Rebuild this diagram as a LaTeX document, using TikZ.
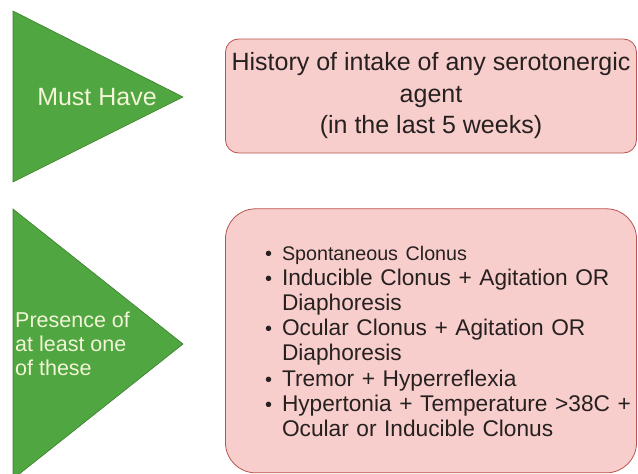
\documentclass[tikz,border=0pt]{standalone}
\usepackage{fontspec}
\setmainfont{Liberation Sans}
\usetikzlibrary{positioning}

\definecolor{tabgreen}{RGB}{80,166,64}
\definecolor{tabgreenline}{RGB}{58,128,44}
\definecolor{boxpink}{RGB}{248,206,204}
\definecolor{boxline}{RGB}{184,84,80}
\definecolor{labelcream}{RGB}{242,245,215}
\definecolor{bodytext}{RGB}{38,32,32}

\renewcommand{\labelitemi}{{\fontsize{20}{20}\selectfont\textbullet}}

\begin{document}
\begin{tikzpicture}[
    x=1pt, y=-1pt,
    node distance=55pt,
    pointer/.style={fill=tabgreen, draw=tabgreenline, line width=0.6pt},
    tag/.style={text=labelcream, inner sep=0pt},
    criteria/.style={
        draw=boxline,
        fill=boxpink,
        line width=0.8pt,
        text=bodytext,
        minimum width=411pt,
        inner sep=2pt,
    },
]
    \useasboundingbox (0,0) rectangle (638,474);
    \clip (0,0) rectangle (638,474);

    % Arrows
    \draw[pointer] (13,11) -- (13,182) -- (183,97) -- cycle;
    \draw[pointer] (13,209) -- (13,479) -- (183,344) -- cycle;

    \node[tag, font=\fontsize{25}{30}\selectfont] (must) at (97,97) {Must Have};
    \node[tag, anchor=west, align=left, font=\fontsize{21.5}{24}\selectfont] (presence) at (15,344) {Presence of\\at least one\\of these};

    % Boxes
    \node[criteria, rounded corners=13pt, minimum height=114pt, align=center, font=\fontsize{25}{31.5}\selectfont] (history) at (431,96) {History of intake of any serotonergic\\agent\\(in the last 5 weeks)};
    \node[criteria, rounded corners=30pt, minimum height=264pt, below=55pt of history] (signs) {};

    \node[text=bodytext, text width=370pt, inner sep=0pt, xshift=16pt, yshift=9pt, font=\fontsize{22.7}{25.2}\selectfont] (signlist) at (signs.center) {%
        \raggedright
        \setlength{\leftmargini}{20pt}\setlength{\labelsep}{10pt}%
        \begin{itemize}\setlength{\itemsep}{0pt}\setlength{\parsep}{0pt}\setlength{\parskip}{0pt}\setlength{\topsep}{0pt}\setlength{\partopsep}{0pt}
            \item {\fontsize{19.7}{24}\selectfont Spontaneous Clonus}
            \item Inducible Clonus + Agitation OR\\Diaphoresis
            \item Ocular Clonus + Agitation OR\\Diaphoresis
            \item Tremor + Hyperreflexia
            \item Hypertonia + Temperature >38C +\\Ocular or Inducible Clonus
        \end{itemize}};
\end{tikzpicture}
\end{document}
